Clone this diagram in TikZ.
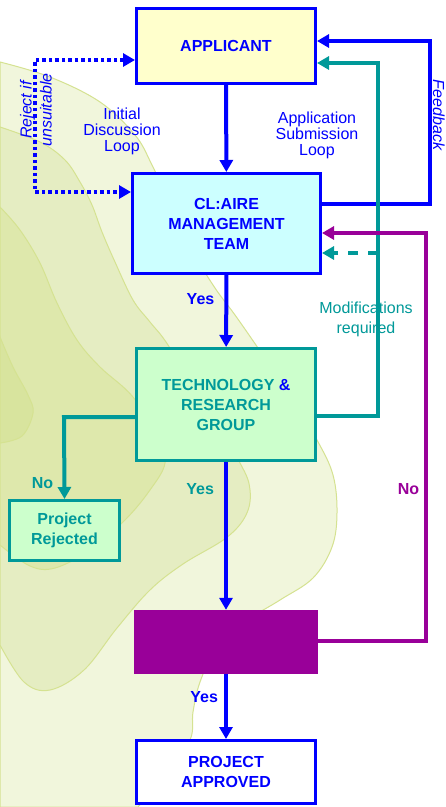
\documentclass[tikz,border=0pt]{standalone}
\usepackage{fontspec}
\setmainfont{Liberation Sans}
\usetikzlibrary{arrows.meta}
\definecolor{flowblue}{RGB}{0,0,255}
\definecolor{flowteal}{RGB}{0,153,153}
\definecolor{flowpurple}{RGB}{153,0,153}
\definecolor{appfill}{RGB}{255,255,204}
\definecolor{teamfill}{RGB}{204,255,255}
\definecolor{groupfill}{RGB}{204,255,204}
\definecolor{blobouter}{RGB}{241,246,220}
\definecolor{blobmid}{RGB}{229,237,194}
\definecolor{blobinner}{RGB}{222,232,172}
\definecolor{blobcore}{RGB}{216,228,158}
\definecolor{blobline}{RGB}{213,226,145}
\tikzset{
    box/.style={rectangle, draw=flowblue, line width=3pt, inner sep=0pt, align=center,
        font=\fontsize{16}{20}\selectfont\bfseries, text=flowblue},
    groupbox/.style={box, draw=flowteal, fill=groupfill, text=flowteal},
    flow/.style={line width=4pt, draw=flowblue, -{Triangle[length=12pt,width=13pt]}},
    loop/.style={inner sep=0pt, align=center, font=\fontsize{16}{16}\selectfont, text=flowblue},
    answer/.style={inner sep=0pt, font=\fontsize{16}{20}\selectfont\bfseries},
    blob/.style={draw=blobline, line width=1pt}
}

\begin{document}
\begin{tikzpicture}[x=1pt, y=-1pt]
    \fill[white] (0,0) rectangle (446,807);
    \useasboundingbox (0,0) rectangle (446,807);

    %background shapes
    \filldraw[blob, fill=blobouter] plot[smooth, tension=0.6] coordinates {(0,62) (50,77) (100,102) (135,135) (152,165) (172,208) (195,255) (215,288) (235,315) (258,348) (288,392) (317,440) (333,475) (337,513) (332,547) (313,578) (280,600) (245,622) (215,652) (200,682) (193,712) (190,740) (165,775) (138,807)} -- (0,807) -- cycle;
    \filldraw[blob, fill=blobmid] plot[smooth, tension=0.6] coordinates {(0,127) (40,142) (65,160) (80,182) (92,205) (102,232) (115,262) (133,300) (150,322) (168,345) (202,402) (240,463) (250,490) (246,515) (226,538) (183,564) (150,590) (117,628) (84,670) (50,690) (24,682) (0,645)} -- cycle;
    \filldraw[blob, fill=blobinner] plot[smooth, tension=0.6] coordinates {(0,207) (20,230) (40,263) (57,303) (77,340) (100,367) (133,397) (158,438) (165,463) (150,490) (125,520) (90,550) (55,568) (30,566) (0,545)} -- cycle;
    \filldraw[blob, fill=blobcore] plot[smooth, tension=0.6] coordinates {(0,337) (13,367) (28,395) (33,413) (22,436) (0,443)} -- cycle;

    %boxes
    \node[box, fill=appfill, minimum width=179pt, minimum height=75pt] (app) at (226,46) {APPLICANT};
    \node[box, fill=teamfill, minimum width=188pt, minimum height=100pt] (team) at (226.5,223.5) {CL:AIRE\\MANAGEMENT\\TEAM};
    \node[groupbox, minimum width=179pt, minimum height=112pt] (group) at (226,404.5) {TECHNOLOGY {\color{flowblue}\&}\\RESEARCH\\GROUP};
    \node[groupbox, minimum width=110pt, minimum height=60pt] (rejected) at (64.5,530.5) {Project\\Rejected};
    \node[rectangle, fill=flowpurple, minimum width=184pt, minimum height=64pt] (panel) at (226,642) {};
    \node[box, fill=white, minimum width=179pt, minimum height=63pt] (approved) at (226,772) {PROJECT\\APPROVED};

    \coordinate (rjtop) at (35,60);
    \coordinate (rjbot) at (35,192);
    \coordinate (fbtop) at (430,41);
    \coordinate (fbbot) at (430,204);
    \coordinate (subtop) at (378,63);
    \coordinate (subbot) at (378,416);
    \coordinate (modright) at (378,253);
    \coordinate (notop) at (426,233);
    \coordinate (nobot) at (426,641);
    \coordinate (nocorner) at (64,417);

    %main line
    \draw[flow] (app) -- (team);
    \draw[flow] (team) -- (group) node[answer, pos=0.33, left=10pt, text=flowblue] (yesa) {Yes};
    \draw[flow] (group) -- (panel) node[answer, pos=0.18, left=10pt, text=flowteal] (yesb) {Yes};
    \draw[flow] (panel) -- (approved) node[answer, pos=0.36, left=6pt, text=flowblue] (yesc) {Yes};

    %loops back
    \draw[flow, dash pattern=on 3.5pt off 3pt, {Triangle[length=12pt,width=13pt]}-{Triangle[length=12pt,width=13pt]}]
        (app.west |- rjtop) -- (rjtop) -- (rjbot) -- (team.west |- rjbot);
    \draw[flow] (team.east |- fbbot) -- (fbbot) -- (fbtop) -- (app.east |- fbtop);
    \draw[flow, draw=flowteal] (group.east |- subbot) -- (subbot) -- (subtop) -- (app.east |- subtop);
    \draw[flow, draw=flowteal, dash pattern=on 10pt off 10pt] (modright) -- (team.east |- modright);
    \draw[flow, draw=flowpurple] (panel.east |- nobot) -- (nobot) -- (notop) -- (team.east |- notop);
    \draw[flow, draw=flowteal] (group.west |- nocorner) -- (nocorner) -- (rejected.north);

    %labels
    \node[loop] (initial) at (122,131) {Initial\\Discussion\\Loop};
    \node[loop] (submission) at (317,135) {Application\\Submission\\Loop};
    \node[loop, font=\fontsize{16}{20}\selectfont, text=flowteal] (modify) at (366,319) {Modifications\\required};
    \node[loop, font=\fontsize{16}{20}\selectfont\itshape, rotate=90] (reject) at (36,110) {Reject if\\unsuitable};
    \node[loop, font=\fontsize{16}{20}\selectfont\itshape, rotate=-90, anchor=base] (feedback) at (433,115) {Feedback};
    \node[answer, text=flowteal] (noa) at (42.5,483) {No};
    \node[answer, text=flowpurple] (nob) at (408.5,489) {No};
\end{tikzpicture}
\end{document}
